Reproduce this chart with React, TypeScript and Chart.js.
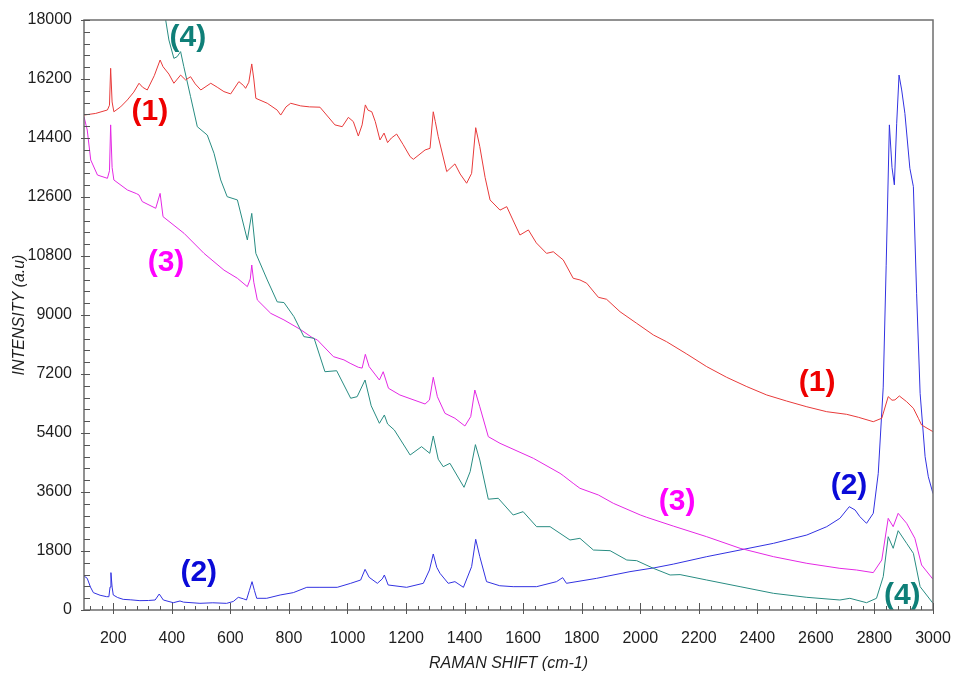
import { useEffect, useRef } from 'react';
import { Chart, registerables } from 'chart.js';

Chart.register(...registerables);

// ---------- DATA ----------
// (1) red spectrum
const shift1 = [100, 140, 180, 187, 191, 196, 202, 225, 248, 270, 288, 300, 316, 340, 360, 370, 390, 407, 430, 447, 464, 480, 499, 533, 555, 578, 601, 629, 645, 652, 663, 673, 680, 687, 726, 760, 772, 790, 806, 840, 870, 906, 943, 957, 982, 1003, 1020, 1037, 1050, 1061, 1070, 1083, 1095, 1111, 1125, 1137, 1150, 1168, 1190, 1214, 1225, 1265, 1282, 1293, 1300, 1310, 1339, 1367, 1385, 1407, 1424, 1438, 1452, 1470, 1487, 1521, 1544, 1565, 1589, 1618, 1645, 1680, 1703, 1737, 1771, 1794, 1817, 1857, 1885, 1931, 1988, 2045, 2090, 2159, 2227, 2295, 2364, 2432, 2500, 2569, 2637, 2705, 2745, 2796, 2825, 2847, 2860, 2870, 2885, 2910, 2933, 2950, 2961, 3000];
const intensity1 = [15100, 15150, 15255, 15400, 16527, 15500, 15200, 15350, 15560, 15800, 16070, 15950, 15865, 16300, 16780, 16575, 16350, 16070, 16320, 16170, 16270, 16050, 15865, 16070, 15950, 15815, 15745, 16120, 16000, 15915, 16100, 16660, 16200, 15610, 15460, 15250, 15100, 15350, 15460, 15380, 15350, 15340, 14950, 14800, 14745, 15030, 14900, 14460, 14800, 15410, 15250, 15200, 14900, 14340, 14550, 14260, 14400, 14520, 14200, 13830, 13750, 14035, 14085, 15200, 14900, 14440, 13375, 13610, 13300, 13020, 13320, 14715, 14135, 13200, 12510, 12200, 12305, 11900, 11440, 11595, 11200, 10880, 10930, 10680, 10120, 10070, 9970, 9540, 9480, 9100, 8745, 8390, 8185, 7810, 7425, 7100, 6815, 6560, 6375, 6200, 6050, 5970, 5880, 5745, 5850, 6510, 6400, 6410, 6530, 6355, 6155, 5850, 5645, 5440];

// (2) blue spectrum
const shift2 = [100, 111, 122, 132, 155, 177, 185, 189, 192, 196, 200, 215, 234, 260, 291, 320, 343, 357, 371, 405, 428, 440, 496, 540, 587, 610, 627, 645, 655, 665, 674, 682, 690, 724, 770, 815, 861, 906, 965, 1011, 1045, 1060, 1074, 1102, 1119, 1126, 1139, 1202, 1259, 1280, 1293, 1305, 1316, 1344, 1367, 1396, 1424, 1438, 1452, 1475, 1520, 1566, 1646, 1714, 1735, 1748, 1851, 1965, 2050, 2113, 2227, 2341, 2455, 2569, 2637, 2682, 2714, 2734, 2750, 2773, 2796, 2813, 2830, 2840, 2851, 2860, 2868, 2876, 2884, 2893, 2904, 2921, 2933, 2944, 2956, 2973, 2984, 3000];
const intensity2 = [1037, 967, 700, 530, 450, 407, 405, 700, 1140, 700, 458, 380, 325, 310, 285, 290, 305, 488, 305, 223, 275, 240, 204, 220, 203, 260, 387, 340, 305, 600, 865, 600, 357, 357, 458, 530, 692, 692, 692, 814, 915, 1240, 997, 814, 950, 1068, 763, 692, 814, 1220, 1709, 1300, 1119, 814, 865, 692, 1322, 2157, 1627, 865, 740, 712, 712, 865, 987, 814, 966, 1170, 1290, 1400, 1627, 1830, 2034, 2288, 2542, 2797, 3152, 3050, 2850, 2644, 2950, 4170, 6800, 10500, 14800, 13500, 12970, 14850, 16320, 15865, 15150, 13475, 12915, 9660, 6610, 4677, 4066, 3550];

// (3) magenta spectrum
const shift3 = [100, 111, 123, 146, 180, 187, 191, 196, 202, 248, 280, 288, 299, 345, 360, 370, 442, 510, 578, 624, 658, 668, 673, 680, 692, 738, 783, 838, 883, 897, 952, 988, 1009, 1037, 1050, 1061, 1074, 1109, 1122, 1140, 1179, 1265, 1280, 1293, 1307, 1333, 1367, 1401, 1421, 1435, 1452, 1481, 1521, 1635, 1726, 1737, 1771, 1794, 1857, 1908, 2000, 2022, 2113, 2227, 2341, 2455, 2569, 2682, 2739, 2796, 2825, 2847, 2864, 2881, 2910, 2938, 2961, 3000];
const intensity3 = [15050, 14645, 13730, 13270, 13170, 13400, 14800, 13500, 13120, 12815, 12700, 12660, 12460, 12255, 12710, 12000, 11490, 10880, 10370, 10120, 9865, 10100, 10525, 10000, 9460, 9050, 8850, 8565, 8290, 8240, 7730, 7630, 7527, 7405, 7380, 7800, 7425, 7017, 7270, 6765, 6560, 6285, 6407, 7100, 6508, 6000, 5850, 5614, 5900, 6712, 6200, 5288, 5085, 4628, 4170, 4100, 3865, 3713, 3509, 3255, 2900, 2828, 2560, 2236, 1882, 1627, 1424, 1271, 1220, 1140, 1525, 2797, 2542, 2950, 2645, 2187, 1373, 936];

// (4) teal spectrum
const shift4 = [360, 379, 390, 407, 418, 430, 441, 464, 487, 521, 544, 567, 589, 624, 658, 673, 687, 726, 760, 783, 817, 851, 886, 923, 963, 1011, 1033, 1060, 1081, 1109, 1126, 1137, 1160, 1214, 1253, 1281, 1293, 1310, 1327, 1350, 1398, 1419, 1437, 1452, 1481, 1515, 1566, 1600, 1646, 1692, 1760, 1794, 1840, 1897, 1954, 1988, 2045, 2102, 2136, 2227, 2341, 2455, 2569, 2682, 2716, 2773, 2807, 2830, 2847, 2864, 2881, 2910, 2933, 2956, 3000];
const intensity4 = [19000, 18000, 17390, 16830, 16880, 17035, 16575, 15660, 14745, 14490, 13935, 13120, 12610, 12510, 11290, 12100, 10880, 10070, 9400, 9380, 8950, 8340, 8290, 7270, 7300, 6460, 6508, 7017, 6230, 5696, 5950, 5675, 5492, 4729, 4983, 4780, 5309, 4600, 4372, 4475, 3743, 4220, 5045, 4575, 3380, 3408, 2898, 3000, 2542, 2542, 2136, 2187, 1830, 1810, 1525, 1505, 1271, 1068, 1080, 915, 712, 509, 387, 305, 357, 223, 357, 1017, 2236, 1882, 2420, 2034, 1729, 712, 204];

const xTickValues = [200, 400, 600, 800, 1000, 1200, 1400, 1600, 1800, 2000, 2200, 2400, 2600, 2800, 3000];
const yTickValues = [0, 1800, 3600, 5400, 7200, 9000, 10800, 12600, 14400, 16200, 18000];
const xMinorStep = 40;
const yMinorStep = 360;

const curveLabels = [
  { text: '(1)', shift: 325, intensity: 15190, color: '#ee0000' },
  { text: '(1)', shift: 2604, intensity: 6932, color: '#ee0000' },
  { text: '(2)', shift: 492, intensity: 1120, color: '#0a0ad8' },
  { text: '(2)', shift: 2713, intensity: 3774, color: '#0a0ad8' },
  { text: '(3)', shift: 380, intensity: 10587, color: '#ff00ff' },
  { text: '(3)', shift: 2126, intensity: 3304, color: '#ff00ff' },
  { text: '(4)', shift: 455, intensity: 17452, color: '#0f7f78' },
  { text: '(4)', shift: 2895, intensity: 427, color: '#0f7f78' },
];

// ---------- CHART ----------
const FONT = '"Liberation Sans", Arial, Helvetica, sans-serif';

const toPoints = (xs: number[], ys: number[]) => xs.map((x, i) => ({ x, y: ys[i] }));

const decorPlugin = {
  id: 'decor',
  afterDatasetsDraw(chart: any) {
    const { ctx, chartArea: a, scales } = chart;
    const xs = scales.x;
    const ys = scales.y;
    ctx.save();
    // curve labels
    const fs = 30;
    ctx.font = `bold ${fs}px ${FONT}`;
    ctx.textAlign = 'center';
    ctx.textBaseline = 'alphabetic';
    for (const l of curveLabels) {
      ctx.fillStyle = l.color;
      ctx.fillText(l.text, xs.getPixelForValue(l.shift), ys.getPixelForValue(l.intensity) + fs * 0.26);
    }
    // frame
    ctx.strokeStyle = '#6e6e6e';
    ctx.lineWidth = 1.5;
    ctx.strokeRect(a.left, a.top, a.right - a.left, a.bottom - a.top);
    // tick marks
    ctx.strokeStyle = '#555';
    ctx.lineWidth = 1;
    ctx.beginPath();
    for (let v = ys.min; v <= ys.max; v += yMinorStep) {
      const py = Math.round(ys.getPixelForValue(v)) + 0.5;
      const major = v % 1800 === 0;
      ctx.moveTo(major ? a.left - 3 : a.left, py);
      ctx.lineTo(a.left + 6, py);
    }
    for (let v = 120; v <= xs.max; v += xMinorStep) {
      const px = Math.round(xs.getPixelForValue(v)) + 0.5;
      const major = v % 200 === 0;
      ctx.moveTo(px, major ? a.bottom + 4 : a.bottom);
      ctx.lineTo(px, major ? a.bottom - 7 : a.bottom - 4);
    }
    ctx.stroke();
    ctx.restore();
  },
};

export default function App() {
  const canvasRef = useRef<HTMLCanvasElement | null>(null);

  useEffect(() => {
    if (!canvasRef.current) return;
    const mk = (label: string, xs: number[], ys: number[], color: string) => ({
      label,
      data: toPoints(xs, ys),
      borderColor: color,
      backgroundColor: color,
      borderWidth: 1,
      pointRadius: 0,
      tension: 0,
      fill: false,
    });
    const chart = new Chart(canvasRef.current, {
      type: 'line',
      data: {
        datasets: [
          mk('(1)', shift1, intensity1, 'rgb(232,58,58)'),
          mk('(4)', shift4, intensity4, 'rgb(40,140,130)'),
          mk('(3)', shift3, intensity3, 'rgb(228,40,228)'),
          mk('(2)', shift2, intensity2, 'rgb(50,50,225)'),
        ],
      },
      options: {
        responsive: false,
        animation: false,
        parsing: false,
        layout: { padding: { left: 0, top: 20, right: 21, bottom: 0 } },
        plugins: { legend: { display: false }, tooltip: { enabled: false } },
        scales: {
          x: {
            type: 'linear',
            min: 100,
            max: 3000,
            afterBuildTicks: (s: any) => {
              s.ticks = xTickValues.map((v) => ({ value: v }));
            },
            afterFit: (s: any) => {
              s.height = 71;
              s.paddingLeft = 0;
              s.paddingRight = 0;
            },
            grid: { display: false },
            border: { display: false },
            ticks: {
              padding: 11,
              color: '#1e1e1e',
              font: { family: FONT, size: 16 },
              maxRotation: 0,
              autoSkip: false,
              callback: (v: any) => String(v),
            },
            title: {
              display: true,
              text: 'RAMAN SHIFT (cm-1)',
              color: '#1e1e1e',
              font: { family: FONT, size: 16, style: 'italic' },
              padding: { top: 0, bottom: 8 },
            },
          },
          y: {
            type: 'linear',
            min: 0,
            max: 18000,
            afterBuildTicks: (s: any) => {
              s.ticks = yTickValues.map((v) => ({ value: v }));
            },
            afterFit: (s: any) => {
              s.width = 84;
              s.paddingTop = 0;
              s.paddingBottom = 0;
            },
            grid: { display: false },
            border: { display: false },
            ticks: {
              padding: 4,
              color: '#1e1e1e',
              font: { family: FONT, size: 16 },
              autoSkip: false,
              callback: (v: any) => String(v),
            },
            title: {
              display: true,
              text: 'INTENSITY (a.u)',
              color: '#1e1e1e',
              font: { family: FONT, size: 16, style: 'italic' },
              padding: { top: 10, bottom: 0 },
            },
          },
        },
      },
      plugins: [decorPlugin],
    } as any);
    return () => chart.destroy();
  }, []);

  return (
    <div style={{ position: 'fixed', left: 0, top: 0, width: 954, height: 681, background: '#fff' }}>
      <canvas ref={canvasRef} width={954} height={681} style={{ display: 'block', width: 954, height: 681 }} />
    </div>
  );
}
